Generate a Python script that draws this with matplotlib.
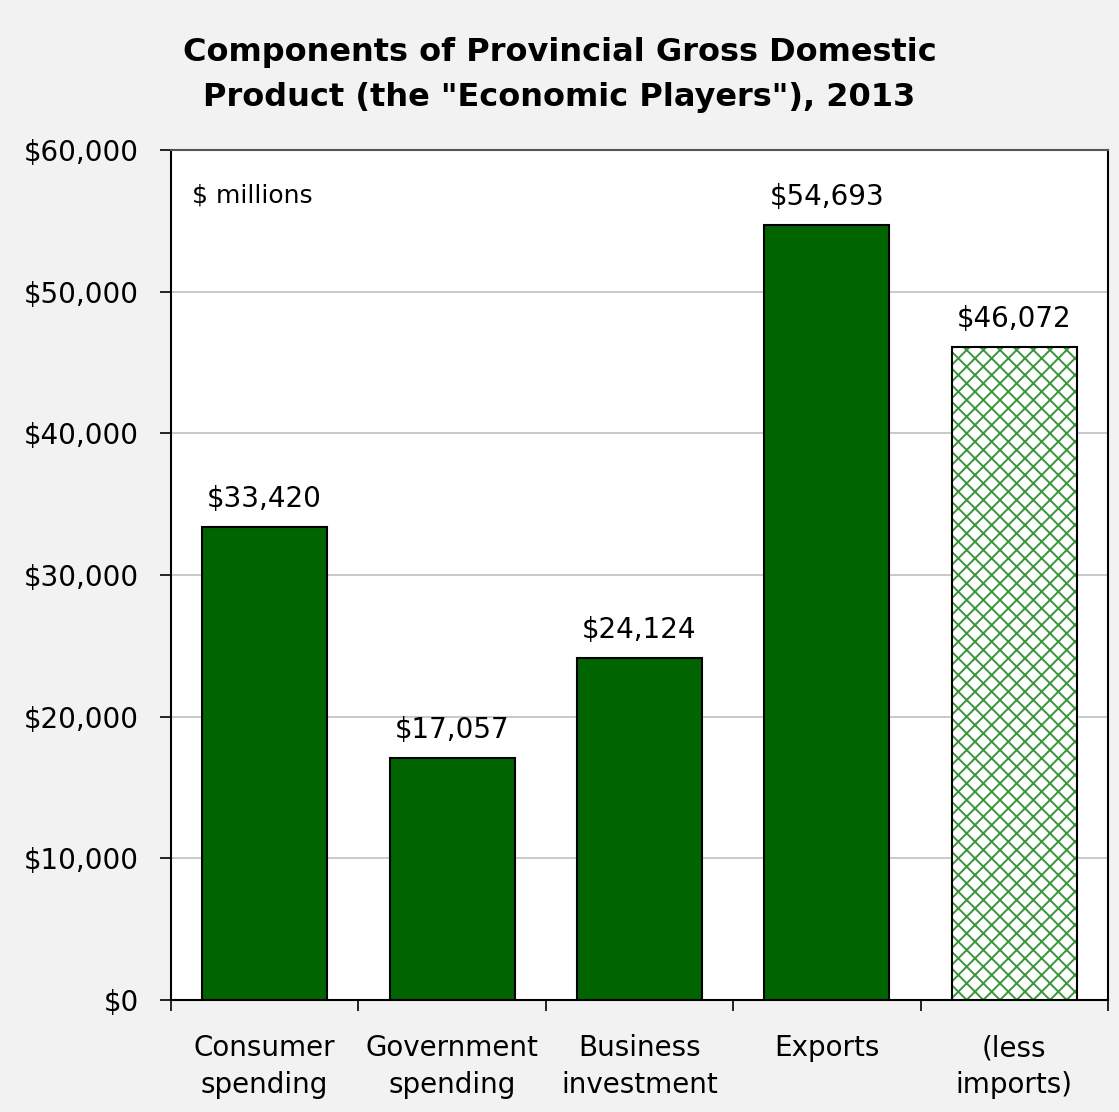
import matplotlib.pyplot as plt
from matplotlib.ticker import FuncFormatter

categories = ['Consumer\nspending', 'Government\nspending', 'Business\ninvestment', 'Exports', '(less\nimports)']
values = [33420, 17057, 24124, 54693, 46072]
hatched = [False, False, False, False, True]

plt.rcParams['font.family'] = 'DejaVu Sans'
plt.rcParams['hatch.linewidth'] = 1.4

fig = plt.figure(figsize=(11.19, 11.12), dpi=100, facecolor='#f2f2f2')
ax = fig.add_axes([0.1528, 0.1007, 0.8373, 0.7644])
ax.set_facecolor('white')

x = list(range(len(values)))
solid_x = [i for i in x if not hatched[i]]
solid_v = [values[i] for i in x if not hatched[i]]
hatch_x = [i for i in x if hatched[i]]
hatch_v = [values[i] for i in x if hatched[i]]

ax.bar(solid_x, solid_v, width=0.667, color='#006400', edgecolor='black', linewidth=1.5, zorder=3)
# hatch drawn in green, outline drawn separately in black
ax.bar(hatch_x, hatch_v, width=0.667, color='white', edgecolor='#3a963a', hatch='xx', linewidth=0, zorder=3)
ax.bar(hatch_x, hatch_v, width=0.667, fill=False, edgecolor='black', linewidth=1.5, zorder=4)

for xi, v in zip(x, values):
    ax.annotate('${:,}'.format(v), (xi, v), xytext=(0, 10), textcoords='offset points',
                ha='center', va='bottom', fontsize=20)

ax.set_xlim(-0.5, len(values) - 0.5)
ax.set_ylim(0, 60000)
ax.set_yticks(range(0, 60001, 10000))
ax.yaxis.set_major_formatter(FuncFormatter(lambda v, p: '${:,.0f}'.format(v)))
ax.yaxis.grid(True, color='#c0c0c0', linewidth=1.2, zorder=0)
ax.tick_params(axis='y', direction='out', length=8, width=1.2, labelsize=20, pad=15)

ax.set_xticks([i - 0.5 for i in range(len(values) + 1)])
ax.set_xticklabels([])
ax.tick_params(axis='x', direction='out', length=8, width=1.2)
for xi, c in zip(x, categories):
    ax.text(xi, -2400, c, ha='center', va='top', fontsize=20, linespacing=1.4)

for s in ax.spines.values():
    s.set_linewidth(1.5)
ax.spines['top'].set_color('#555555')

ax.text(0.022, 0.947, '$ millions', transform=ax.transAxes, ha='left', va='center', fontsize=18)

fig.suptitle('Components of Provincial Gross Domestic\nProduct (the "Economic Players"), 2013',
             x=0.5, y=0.967, fontsize=23, fontweight='bold', linespacing=1.6, va='top')

fig.savefig('out.png', dpi=100, facecolor=fig.get_facecolor())
